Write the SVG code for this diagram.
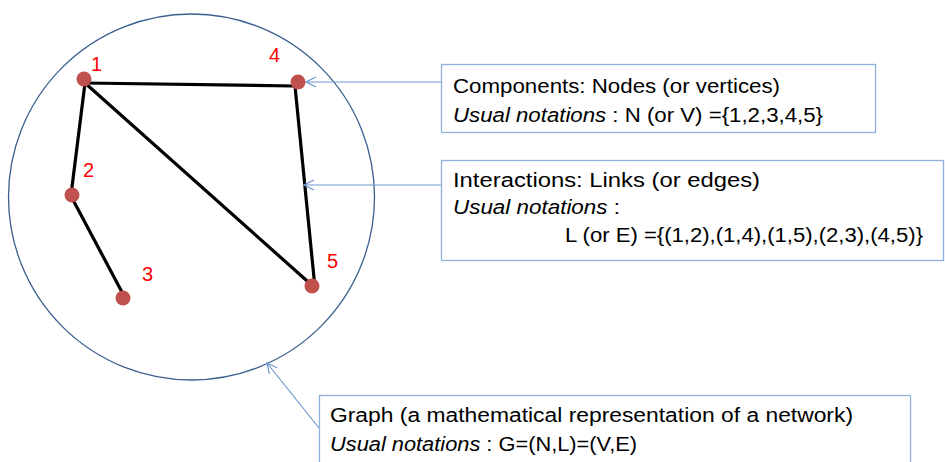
<svg xmlns="http://www.w3.org/2000/svg" width="945" height="462" viewBox="0 0 945 462">
<defs>
<style>
.edge{stroke:#000;stroke-width:3.2;stroke-linecap:round;fill:none}
.node{fill:#C0504D}
.lbl{font-family:"Liberation Sans",Arial,sans-serif;font-size:20px;fill:#FF0000}
.box{fill:#fff;stroke:#8DB0DC;stroke-width:1.3}
.txt{font-family:"Liberation Sans",Arial,sans-serif;font-size:20px;fill:#000}
.it{font-style:italic}
.arr{stroke:#6F97CF;stroke-width:1.2;fill:none;marker-end:url(#ah)}
</style>
<marker id="ah" viewBox="0 0 12 12" refX="11" refY="6" markerWidth="12" markerHeight="12" markerUnits="userSpaceOnUse" orient="auto">
<path d="M1,1 L11,6 L1,11" fill="none" stroke="#6F97CF" stroke-width="1.2"/>
</marker>
</defs>
<rect width="945" height="462" fill="#fff"/>
<g id="graph-circle">
<circle cx="191.5" cy="197" r="183" fill="none" stroke="#3B5F8E" stroke-width="1.3"/>
</g>
<g id="edges">
<line class="edge" x1="85" y1="83" x2="295" y2="86"/>
<line class="edge" x1="85" y1="83" x2="71" y2="195"/>
<line class="edge" x1="85" y1="83" x2="315" y2="288"/>
<line class="edge" x1="295" y1="86" x2="315" y2="288"/>
<line class="edge" x1="72" y1="198" x2="123" y2="294"/>
</g>
<g id="node1"><circle class="node" cx="84" cy="79" r="7.5"/><text class="lbl" x="91" y="71">1</text></g>
<g id="node2"><circle class="node" cx="72" cy="195" r="7.5"/><text class="lbl" x="83" y="177">2</text></g>
<g id="node3"><circle class="node" cx="123" cy="298" r="7.5"/><text class="lbl" x="142" y="281">3</text></g>
<g id="node4"><circle class="node" cx="298" cy="82" r="7.5"/><text class="lbl" x="269" y="62">4</text></g>
<g id="node5"><circle class="node" cx="312" cy="286" r="7.5"/><text class="lbl" x="327" y="268">5</text></g>
<g id="connectors">
<line class="arr" x1="441" y1="82" x2="306" y2="82"/>
<line class="arr" x1="441" y1="185" x2="304" y2="185"/>
<line class="arr" x1="319" y1="428" x2="267" y2="363"/>
</g>
<g id="box-components">
<rect class="box" x="441.5" y="64.5" width="434" height="68"/>
<text class="txt" x="453" y="93" textLength="327" lengthAdjust="spacingAndGlyphs">Components: Nodes (or vertices)</text>
<text class="txt" x="453" y="122" textLength="370" lengthAdjust="spacingAndGlyphs"><tspan class="it">Usual notations</tspan> : N (or V) ={1,2,3,4,5}</text>
</g>
<g id="box-interactions">
<rect class="box" x="441.5" y="160.5" width="502" height="100"/>
<text class="txt" x="453" y="187" textLength="307" lengthAdjust="spacingAndGlyphs">Interactions: Links (or edges)</text>
<text class="txt" x="453" y="214" textLength="167" lengthAdjust="spacingAndGlyphs"><tspan class="it">Usual notations</tspan> :</text>
<text class="txt" x="565" y="242" textLength="358" lengthAdjust="spacingAndGlyphs">L (or E) ={(1,2),(1,4),(1,5),(2,3),(4,5)}</text>
</g>
<g id="box-graph">
<rect class="box" x="319.5" y="395.5" width="591" height="80"/>
<text class="txt" x="330" y="422" textLength="523" lengthAdjust="spacingAndGlyphs">Graph (a mathematical representation of a network)</text>
<text class="txt" x="330" y="451" textLength="307" lengthAdjust="spacingAndGlyphs"><tspan class="it">Usual notations</tspan> : G=(N,L)=(V,E)</text>
</g>
</svg>
